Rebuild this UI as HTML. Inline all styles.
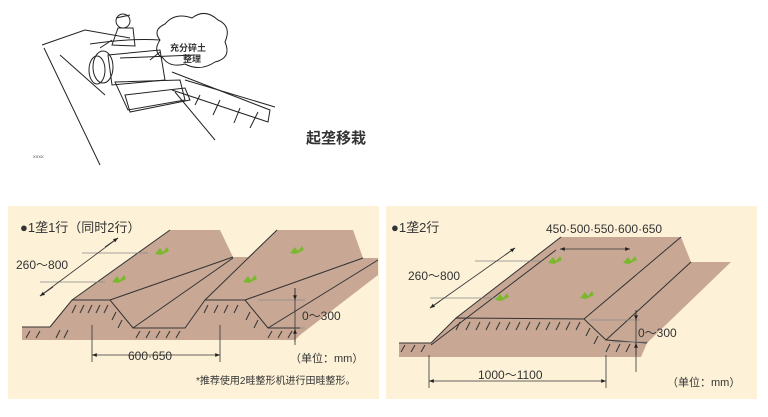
<!DOCTYPE html>
<html><head><meta charset="utf-8"><style>
html,body{margin:0;padding:0;background:#fff;width:768px;height:417px;overflow:hidden}
svg{display:block}
text{font-family:"Liberation Sans","Noto Sans CJK SC",sans-serif;fill:#333}
</style></head><body>
<svg width="768" height="417" viewBox="0 0 768 417" xmlns="http://www.w3.org/2000/svg">
<defs>
<marker id="a" viewBox="0 0 10 10" refX="10" refY="5" markerWidth="6" markerHeight="6" orient="auto-start-reverse"><path d="M0,1 L10,5 L0,9z" fill="#222"/></marker>
</defs>
<!-- top illustration -->
<g stroke="#222" stroke-width="1" fill="none">
<path d="M42 45 L85 30 L130 38"/>
<path d="M44 48 L100 165"/>
<path d="M60 55 L105 95"/>
<path d="M90 44 Q130 38 160 40"/>
<path d="M120 58 L195 55"/>
<ellipse cx="103" cy="67" rx="10" ry="16"/>
<ellipse cx="97" cy="70" rx="8" ry="14"/>
<path d="M108 55 L160 50 L165 80 L112 85Z"/>
<path d="M115 82 L180 80 L185 100 L128 110 Z"/>
<path d="M125 95 L185 88 L190 100 L130 112 Z"/>
<circle cx="123" cy="21" r="7"/>
<path d="M116 18 L130 15"/>
<path d="M118 28 L112 45 L135 46 L133 28 Z"/>
<path d="M112 40 L100 48"/>
<path d="M172 72 L270 110 L268 122 L172 90"/>
<path d="M175 92 L215 140"/>
<path d="M185 80 L275 107"/>
<path d="M200 95 L195 105 M220 100 L213 115 M240 108 L234 123 M258 112 L250 128"/>
<path d="M160 40 Q152 30 165 24 Q175 12 192 18 Q205 8 218 20 Q232 26 225 42 Q232 58 215 62 Q200 72 185 64 Q170 68 163 58 Q152 52 160 40 Z"/>
<path d="M160 52 L150 60"/>
</g>
<text x="170" y="51" font-size="9" font-weight="bold" fill="#222">充分碎土</text>
<text x="183" y="62" font-size="9" font-weight="bold" fill="#222">整理</text>
<text x="33" y="158" font-size="4" fill="#555">XXXX</text>
<text x="306" y="143" font-size="15" font-weight="bold" fill="#111">起垄移栽</text>

<!-- left panel -->
<rect x="8" y="206" width="371" height="193" fill="#fdf2d8"/>
<polygon points="22,327 50,327 72,300 170,230 220,230 233,257 248,257 277,230 353,230 363,258 378,258 378,275 300,335 295,340 22,340" fill="#c8a895"/>
<g stroke="#333" stroke-width="1" fill="none">
<path d="M50,327 L72,300 L110,300 L133,328 L185,328 L205,300 L245,300 L268,328 L300,328"/>
<path d="M22,327 L50,327"/>
<path d="M72,300 L170,230 M110,300 L233,257 M133,328 L233,258 M205,300 L277,230 M245,300 L363,258 M268,328 L378,260"/>
<path d="M60,330 L56,338 M68,330 L64,338 M76,305 L72,313 M84,305 L80,313 M92,305 L88,313 M100,305 L96,313 M108,305 L104,313 M116,312 L112,320 M122,320 L118,328 M30,331 L26,338 M40,331 L36,338 M140,331 L136,338 M150,331 L146,338 M160,331 L156,338 M170,331 L166,338 M180,331 L176,338 M208,305 L204,313 M218,305 L214,313 M228,305 L224,313 M238,305 L234,313 M250,312 L246,320 M258,320 L254,328 M272,331 L268,338 M282,331 L278,338 M292,331 L288,338"/>
</g>
<g stroke="#888" stroke-width="0.8"><path d="M82,253 L148,253 M40,282 L105,282 M258,300 L305,300 M300,328 L305,328"/></g>
<g stroke="#333" stroke-width="0.8" fill="none">
<path d="M40,296 L118,238"/>
<path d="M105,247 L118,238" marker-end="url(#a)"/>
<path d="M53,287 L40,296" marker-end="url(#a)"/>
<path d="M92,355 L220,355" marker-start="url(#a)" marker-end="url(#a)"/>
<path d="M92,325 L92,362 M220,325 L220,362"/>
<path d="M295,288 L295,345"/>
<path d="M295,288 L295,300" marker-end="url(#a)"/>
<path d="M295,342 L295,329" marker-end="url(#a)"/>
</g>
<g fill="#7cb82f"><path d="M155,254 l5,-6 l3,4 l4,-5 l2,4 l-8,4z"/><path d="M112,282 l5,-6 l3,4 l4,-5 l2,4 l-8,4z"/><path d="M290,253 l5,-6 l3,4 l4,-5 l2,4 l-8,4z"/><path d="M243,282 l5,-6 l3,4 l4,-5 l2,4 l-8,4z"/></g>
<text x="20" y="232" font-size="13">●1垄1行（同时2行）</text>
<text x="16" y="269" font-size="12">260～800</text>
<text x="302" y="320" font-size="12">0～300</text>
<text x="128" y="360" font-size="12">600·650</text>
<text x="290" y="362" font-size="11">（单位：mm）</text>
<text x="196" y="384" font-size="10">*推荐使用2畦整形机进行田畦整形。</text>

<!-- right panel -->
<rect x="386" y="206" width="371" height="193" fill="#fdf2d8"/>
<polygon points="399,343 431,343 456,318 561,237 681,237 691,262 731,262 647,343 641,357 399,357" fill="#c8a895"/>
<g stroke="#333" stroke-width="1" fill="none">
<path d="M399,343 L431,343 L456,318 L584,319 L606,340 L647,343"/>
<path d="M456,318 L561,237 M431,345 L556,250 M584,319 L681,237 M606,340 L691,262"/>
<path d="M460,322 L456,330 M470,322 L466,330 M480,322 L476,330 M490,322 L486,330 M500,322 L496,330 M510,322 L506,330 M520,322 L516,330 M530,322 L526,330 M540,322 L536,330 M550,322 L546,330 M560,322 L556,330 M570,322 L566,330 M580,322 L576,330 M590,328 L586,336 M598,336 L594,344 M610,344 L606,352 M620,344 L616,352 M630,344 L626,352 M405,345 L401,352 M415,345 L411,352 M425,345 L421,352"/>
</g>
<g stroke="#888" stroke-width="0.8"><path d="M475,261 L540,261 M430,298 L495,298 M590,320 L640,320 M612,342 L648,342"/></g>
<g stroke="#333" stroke-width="0.8" fill="none">
<path d="M430,308 L515,248"/>
<path d="M505,255 L515,248" marker-end="url(#a)"/>
<path d="M440,301 L430,308" marker-end="url(#a)"/>
<path d="M560,249 L630,249" marker-start="url(#a)" marker-end="url(#a)"/>
<path d="M429,381 L606,381" marker-start="url(#a)" marker-end="url(#a)"/>
<path d="M429,355 L429,388 M606,355 L606,388"/>
<path d="M636,310 L636,372"/>
<path d="M636,310 L636,320" marker-end="url(#a)"/>
<path d="M636,355 L636,343" marker-end="url(#a)"/>
</g>
<g fill="#7cb82f"><path d="M548,263 l5,-6 l3,4 l4,-5 l2,4 l-8,4z"/><path d="M495,300 l5,-6 l3,4 l4,-5 l2,4 l-8,4z"/><path d="M623,263 l5,-6 l3,4 l4,-5 l2,4 l-8,4z"/><path d="M580,298 l5,-6 l3,4 l4,-5 l2,4 l-8,4z"/></g>
<text x="391" y="232" font-size="13">●1垄2行</text>
<text x="546" y="233" font-size="12">450·500·550·600·650</text>
<text x="408" y="280" font-size="12">260～800</text>
<text x="638" y="337" font-size="12">0～300</text>
<text x="478" y="379" font-size="12">1000～1100</text>
<text x="667" y="386" font-size="11">（单位：mm）</text>
</svg>
</body></html>
